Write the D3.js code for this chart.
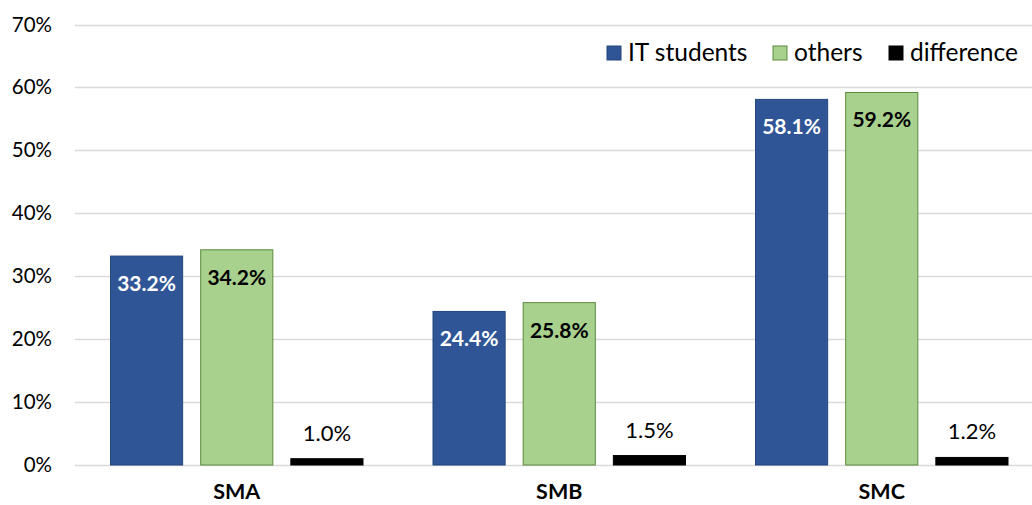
<!DOCTYPE html>
<html lang="en">
<head>
<meta charset="utf-8">
<title>IT students vs others</title>
<script src="https://d3js.org/d3.v7.min.js"></script>
<style>
  body { margin: 0; background: #fff; }
  svg text { font-family: Lato, 'Open Sans', sans-serif; }
</style>
</head>
<body>
<script>
var categories = ["SMA", "SMB", "SMC"];
var seriesNames = ["IT students", "others", "difference"];
var itStudents = [33.2, 24.4, 58.1];
var others = [34.2, 25.8, 59.2];
var difference = [1.0, 1.5, 1.2];
var yTicks = [0, 10, 20, 30, 40, 50, 60, 70];

var w = 1032, h = 505;
var fills = ["#2f5597", "#a9d18e", "#000000"];
var strokes = ["#24477f", "#5b8a3c", "#000000"];

var svg = d3.select("body").append("svg")
  .attr("width", w).attr("height", h);

var x0 = d3.scaleBand().domain(categories).range([75.5, 1043]).paddingInner(0).paddingOuter(0);
var x1 = d3.scaleBand().domain(seriesNames).range([35, 322.5 - 35]).paddingInner(0.2);
var y = d3.scaleLinear().domain([0, 70]).range([465, 24.5]);

// grid
svg.append("g").selectAll("line").data(yTicks).enter().append("line")
  .attr("x1", 75).attr("x2", w)
  .attr("y1", function(d) { return Math.round(y(d)) + 0.5; })
  .attr("y2", function(d) { return Math.round(y(d)) + 0.5; })
  .style("stroke", "#d9d9d9").style("stroke-width", 1.5);

// y labels
svg.append("g").selectAll("text").data(yTicks).enter().append("text")
  .attr("x", 52).attr("y", function(d) { return y(d) + 7; })
  .attr("text-anchor", "end")
  .style("font-size", "20.5px").style("fill", "#000")
  .text(function(d) { return d + "%"; });

var rows = categories.map(function(c, i) {
  return { cat: c, vals: [itStudents[i], others[i], difference[i]] };
});

var groups = svg.selectAll(".grp").data(rows).enter().append("g")
  .attr("class", "grp")
  .attr("transform", function(d) { return "translate(" + x0(d.cat) + ",0)"; });

groups.selectAll("rect").data(function(d) {
  return d.vals.map(function(v, k) { return { s: seriesNames[k], v: v, k: k }; });
}).enter().append("rect")
  .attr("x", function(d) { return x1(d.s); })
  .attr("width", x1.bandwidth())
  .attr("y", function(d) { return y(d.v); })
  .attr("height", function(d) { return y(0) - y(d.v); })
  .style("fill", function(d) { return fills[d.k]; })
  .style("stroke", function(d) { return strokes[d.k]; })
  .style("stroke-width", 1);

groups.selectAll("text.val").data(function(d) {
  return d.vals.map(function(v, k) { return { s: seriesNames[k], v: v, k: k }; });
}).enter().append("text")
  .attr("class", "val")
  .attr("x", function(d) { return x1(d.s) + x1.bandwidth() / 2; })
  .attr("y", function(d) { return d.k == 2 ? y(d.v) - 18 : y(d.v) + 35; })
  .attr("text-anchor", "middle")
  .style("font-size", function(d) { return d.k == 2 ? "22px" : "21px"; })
  .style("font-weight", function(d) { return d.k == 2 ? "normal" : "bold"; })
  .style("fill", function(d) { return d.k == 0 ? "#fff" : "#000"; })
  .text(function(d) { return d.v.toFixed(1) + "%"; });

// category labels
svg.append("g").selectAll("text").data(categories).enter().append("text")
  .attr("x", function(d) { return x0(d) + x0.bandwidth() / 2; })
  .attr("y", 499)
  .attr("text-anchor", "middle")
  .style("font-size", "21.5px").style("font-weight", "bold")
  .text(function(d) { return d; });

// legend
var legendX = [607, 773, 889];
var leg = svg.append("g").selectAll("g").data(seriesNames).enter().append("g")
  .attr("transform", function(d, i) { return "translate(" + legendX[i] + ",46)"; });
leg.append("rect").attr("width", 14).attr("height", 14)
  .style("fill", function(d, i) { return fills[i]; })
  .style("stroke", function(d, i) { return strokes[i]; });
leg.append("text").attr("x", 21).attr("y", 15)
  .style("font-size", "24.5px")
  .text(function(d) { return d; });
</script>
</body>
</html>
